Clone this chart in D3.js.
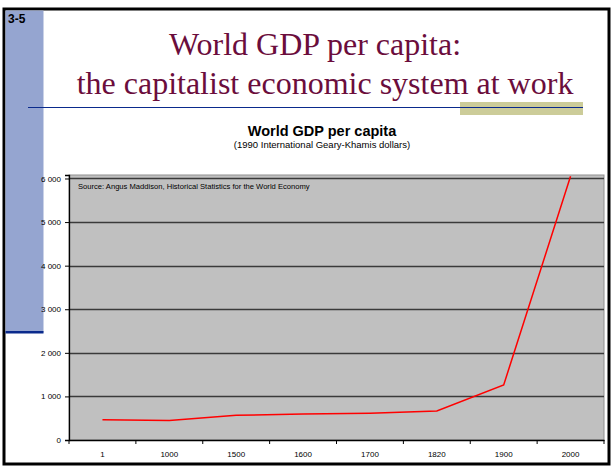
<!DOCTYPE html>
<html>
<head>
<meta charset="utf-8">
<script src="https://cdn.jsdelivr.net/npm/d3@7"></script>
<style>
  body { margin: 0; background: #fff; }
  svg { display: block; }
</style>
</head>
<body>
<div id="chart"></div>
<script>
// data (Maddison, 1990 GK dollars)
var years = ["1", "1000", "1500", "1600", "1700", "1820", "1900", "2000"];
var gdpPerCapita = [467, 450, 566, 596, 615, 667, 1262, 6049];
var yTicks = [0, 1000, 2000, 3000, 4000, 5000, 6000];

var svgWidth = 612, svgHeight = 473;

var svg = d3.select("#chart")
  .append("svg")
  .attr("width", svgWidth)
  .attr("height", svgHeight);

// slide frame
svg.append("rect")
  .attr("x", 4).attr("y", 9)
  .attr("width", 605).attr("height", 455)
  .attr("fill", "#fff")
  .attr("stroke", "#000")
  .attr("stroke-width", 3);

// blue side panel
svg.append("rect")
  .attr("x", 5.5).attr("y", 10.5)
  .attr("width", 38).attr("height", 322)
  .attr("fill", "#95A5D0");
svg.append("rect")
  .attr("x", 5.5).attr("y", 331)
  .attr("width", 38).attr("height", 2.5)
  .attr("fill", "#0A2A8C");

svg.append("text")
  .attr("x", 8).attr("y", 23)
  .attr("font-family", "Liberation Sans, Arial, sans-serif")
  .attr("font-weight", "bold")
  .attr("font-size", 12)
  .text("3-5");

// slide title
var titleLines = ["World GDP per capita:", "the capitalist economic system at work"];
var titleX = [315, 325];
svg.selectAll("text.slideTitle")
  .data(titleLines)
  .enter()
  .append("text")
  .attr("class", "slideTitle")
  .attr("x", (d, i) => titleX[i])
  .attr("y", (d, i) => 55 + i * 39)
  .attr("text-anchor", "middle")
  .attr("font-family", "Liberation Serif, Times New Roman, serif")
  .attr("font-size", 32)
  .attr("fill", "#6B0D3C")
  .text(d => d);

// khaki block + rule under title
svg.append("rect")
  .attr("x", 460).attr("y", 102)
  .attr("width", 123).attr("height", 13)
  .attr("fill", "#CCCC99");
svg.append("line")
  .attr("x1", 28).attr("x2", 583)
  .attr("y1", 107.5).attr("y2", 107.5)
  .attr("stroke", "#0A2A8C")
  .attr("stroke-width", 1);

// chart title
svg.append("text")
  .attr("x", 322).attr("y", 136)
  .attr("text-anchor", "middle")
  .attr("font-family", "Liberation Sans, Arial, sans-serif")
  .attr("font-weight", "bold")
  .attr("font-size", 14.5)
  .text("World GDP per capita");
svg.append("text")
  .attr("x", 322).attr("y", 148)
  .attr("text-anchor", "middle")
  .attr("font-family", "Liberation Sans, Arial, sans-serif")
  .attr("font-size", 9.5)
  .text("(1990 International Geary-Khamis dollars)");

// plot area
var margin = {top: 175, left: 69, right: 8, bottom: 33};
var width = svgWidth - margin.left - margin.right;
var height = svgHeight - margin.top - margin.bottom;

var chartGroup = svg.append("g")
  .attr("transform", `translate(${margin.left}, ${margin.top})`);

var xScale = d3.scaleBand()
  .domain(years)
  .range([0, width]);

var yScale = d3.scaleLinear()
  .domain([0, 6080])
  .range([height, 0]);

chartGroup.append("rect")
  .attr("width", width).attr("height", height)
  .attr("fill", "#C0C0C0")
  .attr("stroke", "#909090")
  .attr("stroke-width", 1);

// gridlines
chartGroup.selectAll("line.grid")
  .data(yTicks.filter(d => d > 0))
  .enter()
  .append("line")
  .attr("class", "grid")
  .attr("x1", 0).attr("x2", width)
  .attr("y1", d => Math.round(yScale(d)) + 0.5)
  .attr("y2", d => Math.round(yScale(d)) + 0.5)
  .attr("stroke", "#3a3a3a")
  .attr("stroke-width", 1.3);

// y axis
var yAxis = d3.axisLeft(yScale)
  .tickValues(yTicks)
  .tickSize(4)
  .tickFormat(d => d3.format(",")(d).replace(",", " "));

var yG = chartGroup.append("g").call(yAxis);

// x axis with ticks on category boundaries
var xAxis = d3.axisBottom(xScale).tickSize(0).tickPadding(11);
var xG = chartGroup.append("g")
  .attr("transform", `translate(0, ${height})`)
  .call(xAxis);

xG.selectAll("line.bound")
  .data(d3.range(years.length + 1))
  .enter()
  .append("line")
  .attr("class", "bound")
  .attr("x1", i => i * xScale.bandwidth())
  .attr("x2", i => i * xScale.bandwidth())
  .attr("y1", 0).attr("y2", 4)
  .attr("stroke", "#000");

[yG, xG].forEach(g => {
  g.select(".domain").attr("stroke", "#000").attr("stroke-width", 1.3);
  g.selectAll("text")
    .attr("font-family", "Liberation Sans, Arial, sans-serif")
    .attr("font-size", 8)
    .attr("fill", "#000");
});
yG.selectAll("text").attr("dx", "-1");

// line
var line = d3.line()
  .x((d, i) => xScale(years[i]) + xScale.bandwidth() / 2)
  .y(d => yScale(d));

chartGroup.append("path")
  .datum(gdpPerCapita)
  .attr("d", line)
  .attr("fill", "none")
  .attr("stroke", "#FF0000")
  .attr("stroke-width", 1.5);

// source note
chartGroup.append("text")
  .attr("x", 9).attr("y", 14)
  .attr("font-family", "Liberation Sans, Arial, sans-serif")
  .attr("font-size", 7.6)
  .text("Source: Angus Maddison, Historical Statistics for the World Economy");
</script>
</body>
</html>
